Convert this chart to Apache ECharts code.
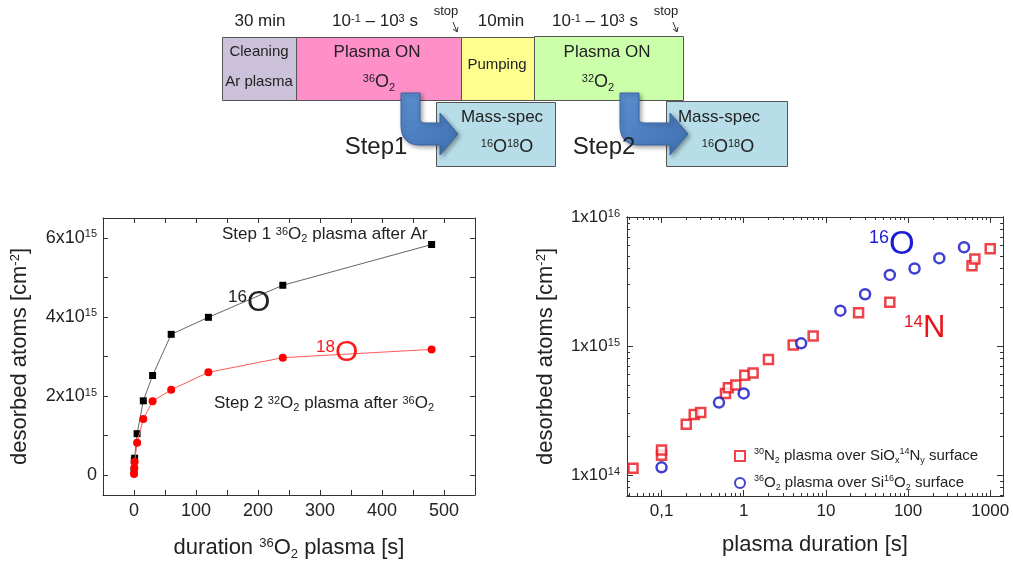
<!DOCTYPE html>
<html><head><meta charset="utf-8">
<script src="https://cdn.jsdelivr.net/npm/echarts@6/dist/echarts.min.js"></script>
<style>html,body{margin:0;padding:0;background:#fff}#c{width:1013px;height:567px}</style>
</head><body><div id="c"></div>
<script>
// ---------------- data ----------------
const o16Durations = [0.1, 0.5, 1, 5, 15, 30, 60, 120, 240, 480];
const o16Desorbed  = [1.15e14, 3.65e14, 4.3e14, 1.05e15, 1.88e15, 2.52e15, 3.56e15, 3.99e15, 4.8e15, 5.83e15];
const o18Durations = [0.1, 0.5, 1, 5, 15, 30, 60, 120, 240, 480];
const o18Desorbed  = [0.03e15, 0.18e15, 0.34e15, 0.82e15, 1.42e15, 1.87e15, 2.16e15, 2.6e15, 2.97e15, 3.18e15];
const n14Durations = [0.045, 0.1, 0.1, 0.2, 0.25, 0.3, 0.6, 0.65, 0.8, 1.03, 1.3, 2, 4, 7, 25, 60, 600, 650, 1000];
const n14Desorbed  = [1.13e14, 1.43e14, 1.57e14, 2.48e14, 2.95e14, 3.06e14, 4.3e14, 4.76e14, 5.0e14, 5.94e14, 6.2e14, 7.87e14, 1.02e15, 1.2e15, 1.81e15, 2.19e15, 4.2e15, 4.73e15, 5.67e15];

const leftXTicks  = [0, 50, 100, 150, 200, 250, 300, 350, 400, 450, 500];
const leftXLabels = [0, 100, 200, 300, 400, 500];
const leftYTicks  = [0, 1e15, 2e15, 3e15, 4e15, 5e15, 6e15];
const leftYLabels = [0, 2e15, 4e15, 6e15];
const rightXMajor = [0.1, 1, 10, 100, 1000];
const rightXMinor = [0.04, 0.05, 0.06, 0.07, 0.08, 0.09, 0.2, 0.3, 0.4, 0.5, 0.6, 0.7, 0.8, 0.9,
  2, 3, 4, 5, 6, 7, 8, 9, 20, 30, 40, 50, 60, 70, 80, 90, 200, 300, 400, 500, 600, 700, 800, 900];
const rightYMajor = [1e14, 1e15, 1e16];
const rightYMinor = [7e13, 8e13, 9e13, 2e14, 3e14, 4e14, 5e14, 6e14, 7e14, 8e14, 9e14,
  2e15, 3e15, 4e15, 5e15, 6e15, 7e15, 8e15, 9e15];

const N_NAME = '30N2 plasma over SiOx14Ny surface';
const O_NAME = '36O2 plasma over Si16O2 surface';

// ---------------- helpers ----------------
const FF = '"Liberation Sans", Arial, sans-serif';
function supsub(fs, supFs, padTop, color) {
  const c = color || '#222';
  return {
    sup: { fontSize: supFs, lineHeight: supFs, verticalAlign: 'top', padding: [padTop, 0, 0, 0], color: c, fontFamily: FF },
    sub: { fontSize: supFs, lineHeight: supFs, verticalAlign: 'bottom', color: c, fontFamily: FF }
  };
}
const LINE = { show: true, onZero: false, lineStyle: { color: '#333', width: 1 } };

// mirrored / minor tick-only axis
function tickAxis(gridIndex, type, position, min, max, ticks, len) {
  const a = { gridIndex: gridIndex, type: type, position: position, min: min, max: max, offset: 0,
    axisLine: LINE, splitLine: { show: false }, minorTick: { show: false },
    axisLabel: { show: false },
    axisTick: { show: true, inside: true, length: len, customValues: ticks, lineStyle: { color: '#333', width: 1 } } };
  if (type === 'log') a.logBase = 10;
  return a;
}

// ---------------- diagram (graphic) ----------------
function box(x, y, w, h, fill) {
  return { type: 'rect', shape: { x: x + 0.5, y: y + 0.5, width: w, height: h }, style: { fill: fill, stroke: '#555', lineWidth: 1 }, z: 1 };
}
function txt(x, y, text, fs, opts) {
  opts = opts || {};
  return { type: 'text', x: x, y: y, z: 10, style: {
    text: text, fontSize: fs, fontFamily: FF, fill: opts.color || '#222',
    align: opts.align || 'center', verticalAlign: 'middle', lineHeight: Math.round(fs * 1.2),
    rich: supsub(fs, Math.round(fs * (opts.supRatio || 0.62)), opts.padTop == null ? 2 : opts.padTop, opts.color)
  } };
}
function quad(p0, c, p2, n) {
  const out = [];
  for (let i = 1; i < n; i++) {
    const t = i / n, a = (1 - t) * (1 - t), b = 2 * (1 - t) * t, d = t * t;
    out.push([a * p0[0] + b * c[0] + d * p2[0], a * p0[1] + b * c[1] + d * p2[1]]);
  }
  return out;
}
function bigArrow(x0, yTop, xb) {
  const w = 19, yH1 = yTop + 30, yH2 = yH1 + 22, mid = (yH1 + yH2) / 2;
  let pts = [[x0, yTop], [x0 + w, yTop], [x0 + w, yH1 - 4]];
  pts = pts.concat(quad([x0 + w, yH1 - 4], [x0 + w, yH1], [x0 + w + 5, yH1], 4));
  pts = pts.concat([[x0 + w + 5, yH1], [xb, yH1], [xb, yH1 - 10], [xb + 18, mid], [xb, yH2 + 10], [xb, yH2], [x0 + w, yH2]]);
  pts = pts.concat(quad([x0 + w, yH2], [x0, yH2], [x0, yH1 + 2], 8));
  pts.push([x0, yH1 + 2]);
  return { type: 'polygon', z: 8, shape: { points: pts }, style: {
    fill: new echarts.graphic.LinearGradient(0, 0, 1, 1, [{ offset: 0, color: '#5b8fd0' }, { offset: 1, color: '#3f6fb0' }]),
    stroke: '#3a64a0', lineWidth: 1, shadowBlur: 4, shadowColor: 'rgba(0,0,0,0.35)', shadowOffsetX: 2, shadowOffsetY: 2 } };
}
function stopArrow(x1, y1, x2, y2) {
  return { type: 'group', z: 10, children: [
    { type: 'line', shape: { x1: x1, y1: y1, x2: x2, y2: y2 }, style: { stroke: '#333', lineWidth: 1 } },
    { type: 'polyline', shape: { points: [[x2 - 4, y2 - 3], [x2, y2], [x2 + 1, y2 - 5]] }, style: { stroke: '#333', lineWidth: 1, fill: null } }
  ]};
}

const graphics = [
  box(222, 37, 74, 63, '#ccc1da'),
  box(296, 37, 165, 63, '#ff8fc9'),
  box(461, 37, 73, 63, '#ffff8f'),
  box(534, 36, 149, 64, '#ccffaa'),
  box(436, 102, 119, 64, '#b7dde8'),
  box(666, 101, 121, 65, '#b7dde8'),
  txt(260, 21, '30 min', 17),
  txt(375, 21, '10{sup|-1} – 10{sup|3} s', 17),
  txt(446, 11, 'stop', 13),
  stopArrow(453, 22, 457, 32),
  txt(501, 21, '10min', 17),
  txt(595, 21, '10{sup|-1} – 10{sup|3} s', 17),
  txt(666, 11, 'stop', 13),
  stopArrow(673, 22, 677, 32),
  txt(259, 52, 'Cleaning', 15),
  txt(259, 82, 'Ar plasma', 15),
  txt(377, 52, 'Plasma ON', 17),
  txt(379, 82, '{sup|36}O{sub|2}', 18),
  txt(497, 65, 'Pumping', 15),
  txt(607, 52, 'Plasma ON', 17),
  txt(598, 82, '{sup|32}O{sub|2}', 18),
  txt(502, 117, 'Mass-spec', 17),
  txt(507, 147, '{sup|16}O{sup|18}O', 18),
  txt(719, 117, 'Mass-spec', 17),
  txt(728, 147, '{sup|16}O{sup|18}O', 18),
  txt(376, 147, 'Step1', 24),
  txt(604, 147, 'Step2', 24),
  bigArrow(401, 93, 440),
  bigArrow(620, 93, 670),
  // chart annotations
  txt(222, 234, 'Step 1 {sup|36}O{sub|2} plasma after Ar', 17, { align: 'left' }),
  txt(214, 403, 'Step 2 {sup|32}O{sub|2} plasma after {sup|36}O{sub|2}', 17, { align: 'left' }),
  txt(228, 303, '{sup|16}O', 30, { align: 'left', supRatio: 0.55, padTop: 4 }),
  txt(316, 353, '{sup|18}O', 30, { align: 'left', color: '#ff1a1a', supRatio: 0.55, padTop: 4 }),
  txt(869, 245, '{sup|16}O', 33, { align: 'left', color: '#1c1cd6', supRatio: 0.55, padTop: 4 }),
  txt(904, 328, '{sup|14}N', 31, { align: 'left', color: '#e8141b', supRatio: 0.55, padTop: 4 })
];

// ---------------- chart ----------------
const chart = echarts.init(document.getElementById('c'), null, { renderer: 'canvas' });
const axisNameStyle = (fs) => ({ fontSize: fs, fontFamily: FF, color: '#222', lineHeight: 26, rich: supsub(fs, 13, 2) });
const supRich = { sup: { fontSize: 11, verticalAlign: 'top', lineHeight: 11, fontFamily: FF, color: '#222' } };

const LX = [-50, 550], LY = [-0.5e15, 6.5e15], RX = [0.038, 1430], RY = [6.9e13, 1e16];

chart.setOption({
  animation: false,
  backgroundColor: '#fff',
  grid: [
    { left: 103, top: 218, width: 372, height: 277, show: false },
    { left: 627, top: 217, width: 376, height: 279, show: false }
  ],
  xAxis: [
    { gridIndex: 0, type: 'value', position: 'bottom', min: LX[0], max: LX[1],
      axisLine: LINE, splitLine: { show: false },
      axisTick: { show: true, inside: true, length: 5, customValues: leftXTicks, lineStyle: { color: '#333' } },
      axisLabel: { margin: 7, fontSize: 18, fontFamily: FF, color: '#222', customValues: leftXLabels,
        formatter: v => String(Math.round(v)) },
      name: 'duration {sup|36}O{sub|2} plasma [s]', nameLocation: 'middle', nameGap: 40,
      nameTextStyle: axisNameStyle(22) },
    tickAxis(0, 'value', 'top', LX[0], LX[1], leftXTicks, 5),
    { gridIndex: 1, type: 'log', logBase: 10, position: 'bottom', min: RX[0], max: RX[1],
      axisLine: LINE, splitLine: { show: false }, minorTick: { show: false },
      axisTick: { show: true, inside: true, length: 6, customValues: rightXMajor, lineStyle: { color: '#333' } },
      axisLabel: { margin: 7, fontSize: 17, fontFamily: FF, color: '#222', customValues: rightXMajor,
        formatter: v => (Math.round(Math.log10(v)) === -1 ? '0,1' : String(Math.round(v))) },
      name: 'plasma duration [s]', nameLocation: 'middle', nameGap: 36,
      nameTextStyle: axisNameStyle(22) },
    tickAxis(1, 'log', 'bottom', RX[0], RX[1], rightXMinor, 3),
    tickAxis(1, 'log', 'top', RX[0], RX[1], rightXMajor, 6),
    tickAxis(1, 'log', 'top', RX[0], RX[1], rightXMinor, 3)
  ],
  yAxis: [
    { gridIndex: 0, type: 'value', position: 'left', min: LY[0], max: LY[1],
      axisLine: LINE, splitLine: { show: false },
      axisTick: { show: true, inside: true, length: 5, customValues: leftYTicks, lineStyle: { color: '#333' } },
      axisLabel: { margin: 6, fontSize: 18, fontFamily: FF, color: '#222', customValues: leftYLabels,
        formatter: v => Math.abs(v) < 1 ? '0' : Math.round(v / 1e15) + 'x10{sup|15}', rich: supRich },
      name: 'desorbed atoms [cm{sup|-2}]', nameLocation: 'middle', nameGap: 70, nameRotate: 90,
      nameTextStyle: axisNameStyle(22) },
    tickAxis(0, 'value', 'right', LY[0], LY[1], leftYTicks, 5),
    { gridIndex: 1, type: 'log', logBase: 10, position: 'left', min: RY[0], max: RY[1],
      axisLine: LINE, splitLine: { show: false }, minorTick: { show: false },
      axisTick: { show: true, inside: true, length: 6, customValues: rightYMajor, lineStyle: { color: '#333' } },
      axisLabel: { margin: 7, fontSize: 17, fontFamily: FF, color: '#222', customValues: rightYMajor,
        formatter: v => '1x10{sup|' + Math.round(Math.log10(v)) + '}', rich: supRich },
      name: 'desorbed atoms [cm{sup|-2}]', nameLocation: 'middle', nameGap: 68, nameRotate: 90,
      nameTextStyle: axisNameStyle(22) },
    tickAxis(1, 'log', 'left', RY[0], RY[1], rightYMinor, 3),
    tickAxis(1, 'log', 'right', RY[0], RY[1], rightYMajor, 6),
    tickAxis(1, 'log', 'right', RY[0], RY[1], rightYMinor, 3)
  ],
  legend: {
    left: 729, top: 442, orient: 'vertical', itemGap: 9, itemWidth: 10, itemHeight: 10,
    data: [N_NAME, O_NAME],
    formatter: function (name) {
      return name === N_NAME ? '{sup|30}N{sub|2} plasma over SiO{sub|x}{sup|14}N{sub|y} surface'
                             : '{sup|36}O{sub|2} plasma over Si{sup|16}O{sub|2} surface';
    },
    textStyle: { fontSize: 15, lineHeight: 18, color: '#222', fontFamily: FF, padding: [0, 0, 0, 4],
      rich: supsub(15, 9, 0) }
  },
  graphic: graphics,
  series: [
    { name: '16O step1', type: 'line', xAxisIndex: 0, yAxisIndex: 0,
      data: o16Durations.map((d, i) => [d, o16Desorbed[i]]),
      symbol: 'rect', symbolSize: 7, showAllSymbol: true,
      lineStyle: { color: '#666', width: 1 }, itemStyle: { color: '#000' }, z: 3 },
    { name: '18O step2', type: 'line', xAxisIndex: 0, yAxisIndex: 0,
      data: o18Durations.map((d, i) => [d, o18Desorbed[i]]),
      symbol: 'circle', symbolSize: 8, showAllSymbol: true,
      lineStyle: { color: '#ff5a5a', width: 1 }, itemStyle: { color: '#ff0000' }, z: 4 },
    { name: N_NAME, type: 'scatter', xAxisIndex: 2, yAxisIndex: 2,
      data: n14Durations.map((d, i) => [d, n14Desorbed[i]]),
      symbol: 'rect', symbolSize: 9,
      itemStyle: { color: '#fff', borderColor: '#e8141b', borderWidth: 2.5 }, z: 4 },
    { name: O_NAME, type: 'scatter', xAxisIndex: 2, yAxisIndex: 2,
      data: o16Durations.map((d, i) => [d, o16Desorbed[i]]),
      symbol: 'circle', symbolSize: 10,
      itemStyle: { color: '#fff', borderColor: '#1010c8', borderWidth: 2.5 }, z: 4 }
  ]
});
</script>
</body></html>
